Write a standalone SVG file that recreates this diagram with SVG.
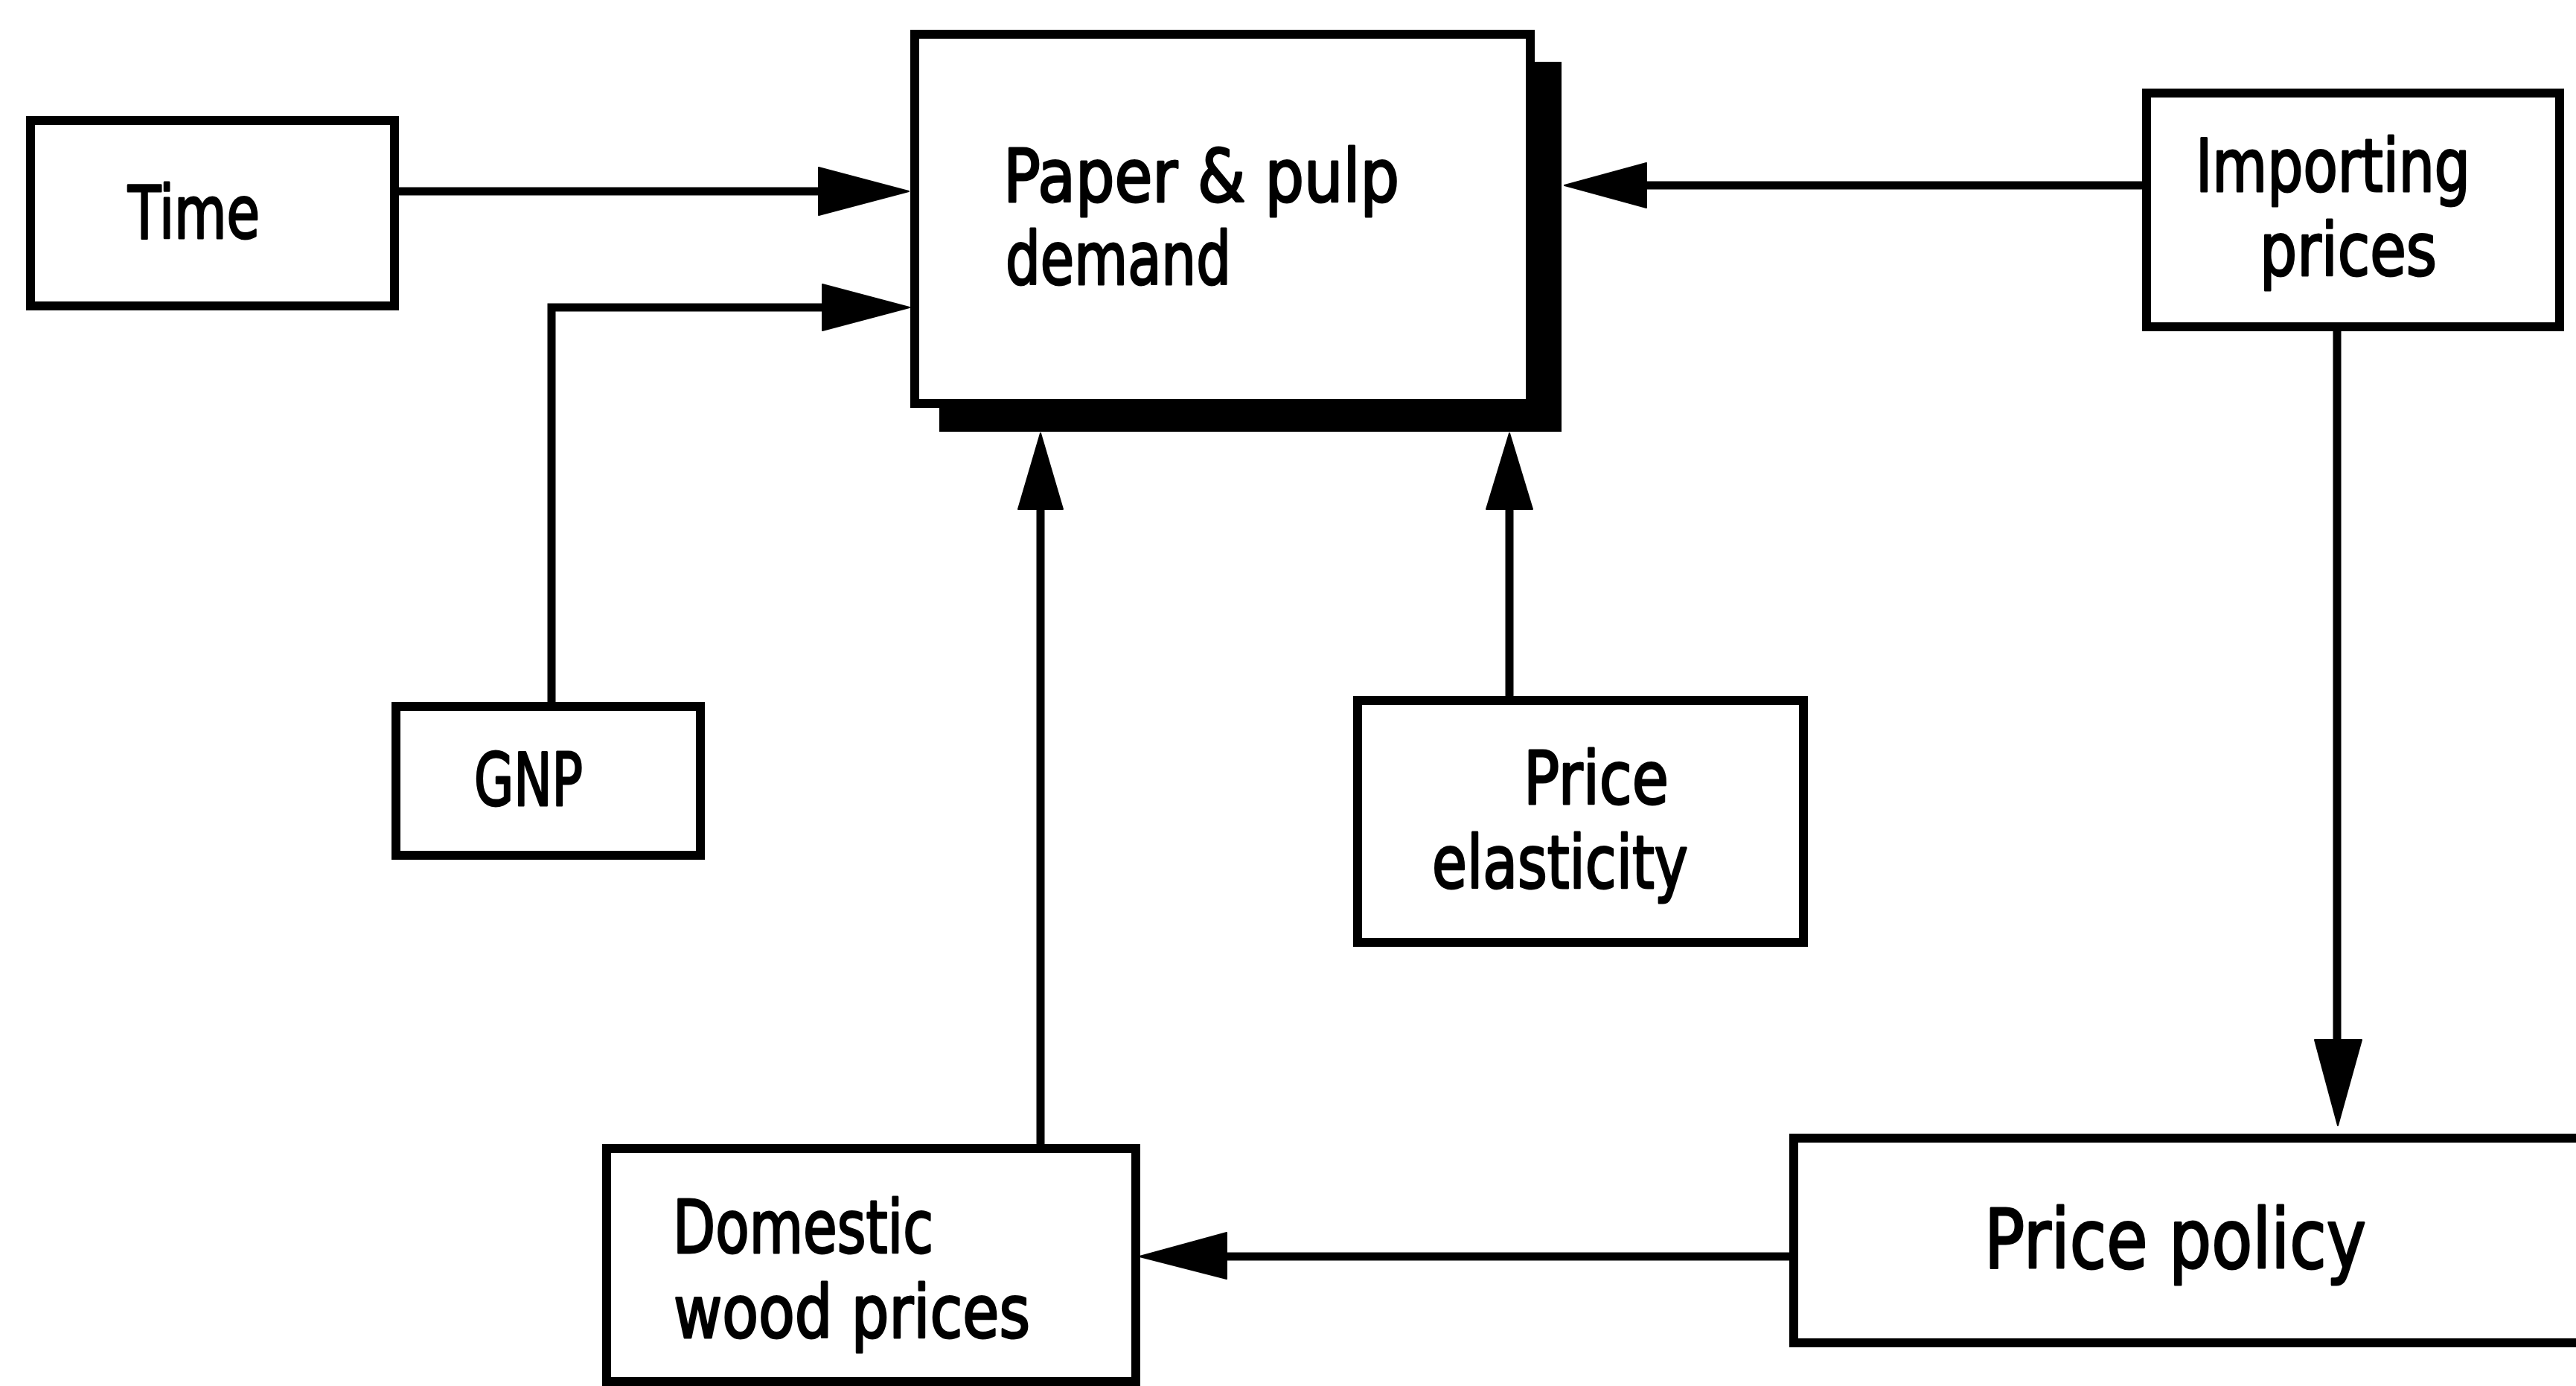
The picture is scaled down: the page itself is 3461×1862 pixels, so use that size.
<svg xmlns="http://www.w3.org/2000/svg" width="3461" height="1862" viewBox="0 0 3461 1862">
<style>
.box{fill:#fff;stroke:#000;stroke-width:12}
.lbl{font-family:"DejaVu Sans","Liberation Sans",sans-serif;font-size:98px;fill:#000;stroke:#000;stroke-width:3;stroke-linejoin:round}
.con{fill:none;stroke:#000;stroke-width:11;stroke-linejoin:miter;stroke-linecap:butt}
.head{fill:#000;stroke:#000;stroke-width:2;stroke-linejoin:round}
</style>
<rect width="3461" height="1862" fill="#fff"/>
<g id="connectors">
<line class="con" x1="536" y1="257" x2="1104" y2="257"/>
<polygon class="head" points="1100,225 1221,257 1100,289"/>
<polyline class="con" points="741,949 741,413 1110,413"/>
<polygon class="head" points="1105,382 1222,413 1105,444"/>
<line class="con" x1="2884" y1="249" x2="2208" y2="249"/>
<polygon class="head" points="2212,219 2102,249 2212,279"/>
<line class="con" x1="3140" y1="439" x2="3140" y2="1400"/>
<polygon class="head" points="3110,1397 3173,1397 3141,1512"/>
<line class="con" x1="2404" y1="1688" x2="1644" y2="1688"/>
<polygon class="head" points="1648,1656 1648,1718 1531,1688"/>
<line class="con" x1="1398" y1="1543" x2="1398" y2="680"/>
<polygon class="head" points="1368,684 1428,684 1398,582"/>
<line class="con" x1="2028" y1="941" x2="2028" y2="680"/>
<polygon class="head" points="1997,684 2059,684 2028,582"/>
</g>
<g id="time">
<rect class="box" x="41" y="162" width="489" height="249"/>
<text class="lbl" x="172" y="320" textLength="177" lengthAdjust="spacingAndGlyphs">Time</text>
</g>
<g id="paper-pulp-demand">
<rect x="1262" y="83" width="836" height="497" fill="#000"/>
<rect class="box" x="1229" y="46" width="827" height="496"/>
<text class="lbl" x="1348" y="271" textLength="532" lengthAdjust="spacingAndGlyphs">Paper &amp; pulp</text>
<text class="lbl" x="1351" y="382" textLength="303" lengthAdjust="spacingAndGlyphs">demand</text>
</g>
<g id="importing-prices">
<rect class="box" x="2884" y="125" width="555" height="314"/>
<text class="lbl" x="2950" y="257" textLength="369" lengthAdjust="spacingAndGlyphs">Importing</text>
<text class="lbl" x="3036" y="370" textLength="238" lengthAdjust="spacingAndGlyphs">prices</text>
</g>
<g id="gnp">
<rect class="box" x="532" y="949" width="409" height="200"/>
<text class="lbl" x="637" y="1082" textLength="146" lengthAdjust="spacingAndGlyphs">GNP</text>
</g>
<g id="price-elasticity">
<rect class="box" x="1824" y="941" width="599" height="325"/>
<text class="lbl" x="2047" y="1080" textLength="195" lengthAdjust="spacingAndGlyphs">Price</text>
<text class="lbl" x="1924" y="1193" textLength="344" lengthAdjust="spacingAndGlyphs">elasticity</text>
</g>
<g id="domestic-wood-prices">
<rect class="box" x="815" y="1543" width="711" height="313"/>
<text class="lbl" x="904" y="1683" textLength="350" lengthAdjust="spacingAndGlyphs">Domestic</text>
<text class="lbl" x="905" y="1797" textLength="479" lengthAdjust="spacingAndGlyphs">wood prices</text>
</g>
<g id="price-policy">
<rect class="box" x="2410" y="1529" width="1100" height="275"/>
<text class="lbl" x="2666" y="1703" style="font-size:111px" textLength="513" lengthAdjust="spacingAndGlyphs">Price policy</text>
</g>
</svg>
